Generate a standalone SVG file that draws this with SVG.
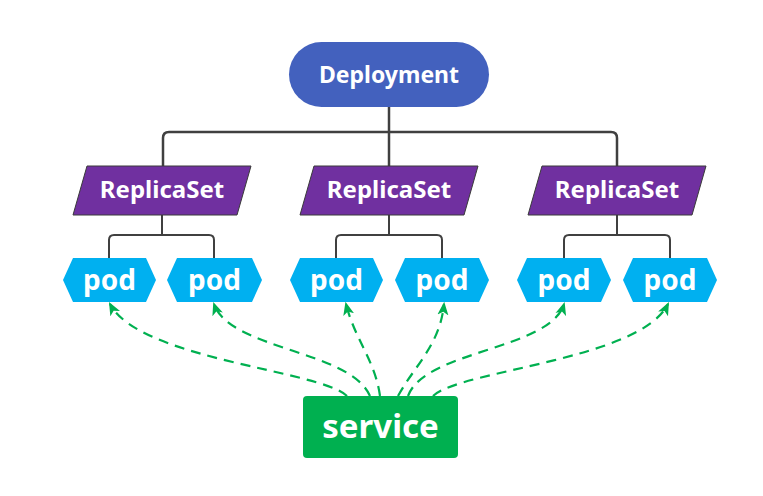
<svg xmlns="http://www.w3.org/2000/svg" width="763" height="496" viewBox="0 0 763 496">
<defs>
<style>
.lbl{font-family:"Noto Sans","Open Sans","DejaVu Sans",sans-serif;font-weight:bold;fill:#fff;text-anchor:middle}
.tree{fill:none;stroke:#404040;stroke-width:2.5}
.sub{fill:none;stroke:#404040;stroke-width:2}
.dash{fill:none;stroke:#00B050;stroke-width:2.2;stroke-dasharray:10 7;marker-end:url(#ah)}
.rs{fill:#7030A0;stroke:#3a3a3a;stroke-width:1}
.pod{fill:#00B0F0}
</style>
<marker id="ah" viewBox="0 0 12 10" refX="10" refY="5" markerWidth="6" markerHeight="5.5" orient="auto" markerUnits="strokeWidth">
<path d="M0,0 L12,5 L0,10 L3,5 Z" fill="#00B050"/>
</marker>
</defs>
<g id="connectors">
<path class="tree" d="M389,107 V166"/>
<path class="tree" d="M163,166 V138 Q163,132 169,132 H611 Q617,132 617,138 V166"/>
<path class="sub" d="M162,215 V235 M109,258 V240 Q109,235 114,235 H209 Q214,235 214,240 V258"/>
<path class="sub" d="M389,215 V235 M336,258 V240 Q336,235 341,235 H437 Q442,235 442,240 V258"/>
<path class="sub" d="M617,215 V235 M564,258 V240 Q564,235 569,235 H665 Q670,235 670,240 V258"/>
<path class="dash" d="M347,396 C320,370 140,360 110,304"/>
<path class="dash" d="M370,396 C350,350 230,350 214,304"/>
<path class="dash" d="M380,396 C375,360 355,340 346,304"/>
<path class="dash" d="M398,396 C415,365 440,345 444,304"/>
<path class="dash" d="M408,396 C425,350 550,350 564,304"/>
<path class="dash" d="M433,396 C460,370 640,360 668,304"/>
</g>
<g id="deployment">
<rect x="289" y="42" width="200" height="65" rx="32.5" fill="#4361BE"/>
<text class="lbl" x="389" y="83" font-size="23">Deployment</text>
</g>
<g id="replicaset1">
<polygon class="rs" points="87,166 251,166 237,215 73,215"/>
<text class="lbl" x="162" y="198" font-size="24">ReplicaSet</text>
</g>
<g id="replicaset2">
<polygon class="rs" points="314,166 478,166 464,215 300,215"/>
<text class="lbl" x="389" y="198" font-size="24">ReplicaSet</text>
</g>
<g id="replicaset3">
<polygon class="rs" points="542,166 706,166 692,215 528,215"/>
<text class="lbl" x="617" y="198" font-size="24">ReplicaSet</text>
</g>
<g id="pod1">
<polygon class="pod" points="73,258 146,258 156,280 146,302 73,302 63,280"/>
<text class="lbl" x="109.5" y="290" font-size="28">pod</text>
</g>
<g id="pod2">
<polygon class="pod" points="177,258 252,258 262,280 252,302 177,302 167,280"/>
<text class="lbl" x="214.5" y="290" font-size="28">pod</text>
</g>
<g id="pod3">
<polygon class="pod" points="300,258 373,258 383,280 373,302 300,302 290,280"/>
<text class="lbl" x="336.5" y="290" font-size="28">pod</text>
</g>
<g id="pod4">
<polygon class="pod" points="405,258 479,258 489,280 479,302 405,302 395,280"/>
<text class="lbl" x="442" y="290" font-size="28">pod</text>
</g>
<g id="pod5">
<polygon class="pod" points="527,258 601,258 611,280 601,302 527,302 517,280"/>
<text class="lbl" x="564" y="290" font-size="28">pod</text>
</g>
<g id="pod6">
<polygon class="pod" points="633,258 707,258 717,280 707,302 633,302 623,280"/>
<text class="lbl" x="670" y="290" font-size="28">pod</text>
</g>
<g id="service">
<rect x="303" y="396" width="155" height="62" rx="4" fill="#00B050"/>
<text class="lbl" x="380.5" y="438" font-size="33">service</text>
</g>
</svg>
